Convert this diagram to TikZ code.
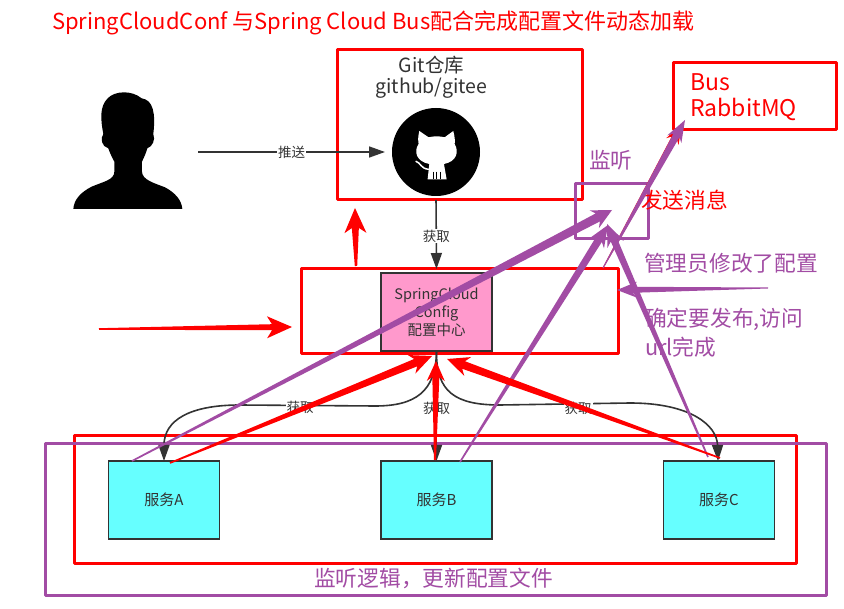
\documentclass[tikz,border=0pt]{standalone}
\usepackage{fontspec}
\setmainfont{Noto Sans CJK SC}
\usetikzlibrary{calc,arrows.meta}
\definecolor{redc}{HTML}{FF0000}
\definecolor{purp}{HTML}{A24CA4}
\definecolor{dark}{HTML}{333333}
\definecolor{pinkf}{HTML}{FF99CC}
\definecolor{cyanf}{HTML}{66FFFF}
\newcommand{\fsz}[1]{\fontsize{#1}{#1}\selectfont}
% colour, from, to, start half width, shaft half width, head length, head half width
\newcommand{\taperarrow}[7]{%
  \fill[#1] ($(#2)!#4!90:(#3)$) --
    ($($(#3)!0.8*#6!(#2)$)!#5!90:(#3)$) --
    ($($(#3)!#6!(#2)$)!#7!90:(#3)$) -- (#3) --
    ($($(#3)!#6!(#2)$)!#7!-90:(#3)$) --
    ($($(#3)!0.8*#6!(#2)$)!#5!-90:(#3)$) --
    ($(#2)!#4!-90:(#3)$) -- cycle;}
\tikzset{
  redbox/.style={draw=redc,line width=3pt,inner sep=0pt,outer sep=0pt,line join=round},
  purpbox/.style={draw=purp,line width=3pt,inner sep=0pt,outer sep=0pt,line join=round},
  svcbox/.style={draw=dark,line width=1.8pt,fill=cyanf,inner sep=0pt,outer sep=0pt,minimum width=111pt,minimum height=78pt,text=dark,font=\fsz{15}},
  cfgbox/.style={draw=dark,line width=1.8pt,fill=pinkf,inner sep=0pt,outer sep=0pt,minimum width=111pt,minimum height=78pt,text=dark,font=\fsz{14.5},align=center},
  conn/.style={draw=dark,line width=1.6pt,-{Triangle[length=16pt,width=11pt]}},
  lbl/.style={fill=white,inner sep=1pt,text=dark,font=\fsz{13.5}},
  purptxt/.style={text=purp,anchor=west,inner sep=0pt,font=\fsz{21.7}},
  redtxt/.style={text=redc,anchor=west,inner sep=0pt,font=\fsz{21.7}},
}
\begin{document}
\begin{tikzpicture}[x=1pt,y=-1pt]
\useasboundingbox (0,0) rectangle (844,609);
\fill[white] (0,0) rectangle (844,609);
% title
\node[redtxt,font=\fsz{22}] (title) at (52,23) {SpringCloudConf 与Spring Cloud Bus配合完成配置文件动态加载};
% person
\begin{scope}[shift={(60,40)},scale=0.3333]
\fill[black] (40,507) .. controls (42,480) and (60,458) .. (95,440)
  .. controls (130,425) and (163,420) .. (163,395) -- (163,365)
  .. controls (155,350) and (148,335) .. (145,325)
  .. controls (125,320) and (120,295) .. (130,282)
  .. controls (122,240) and (118,200) .. (143,175)
  .. controls (165,152) and (215,150) .. (245,175)
  .. controls (280,180) and (287,220) .. (280,282)
  .. controls (287,300) and (277,320) .. (262,325)
  .. controls (258,340) and (252,352) .. (246,365) -- (246,395)
  .. controls (246,420) and (285,430) .. (315,442)
  .. controls (345,458) and (365,480) .. (367,507) -- cycle;
\end{scope}
\coordinate (personR) at (198,152);
% main boxes
\node[redbox,minimum width=245pt,minimum height=150pt] (git) at (459.5,125) {};
\node[text=dark,align=center,inner sep=0pt,font=\fsz{19.5}] (gittxt) at (431.5,77) {Git仓库\\[2pt]github/gitee};
% octocat
\node[circle,fill=black,minimum size=88pt,inner sep=0pt,outer sep=0pt] (icon) at (436,152) {};
\begin{scope}[shift={(60,40)},scale=0.3333]
\fill[white] (1078,273) -- (1106,292) .. controls (1120,288) and (1140,288) .. (1154,292) -- (1180,273)
  .. controls (1184,290) and (1186,302) .. (1184,312)
  .. controls (1198,335) and (1190,365) .. (1152,372) -- (1160,418) -- (1103,418) -- (1108,372)
  .. controls (1070,365) and (1060,335) .. (1076,312)
  .. controls (1074,302) and (1074,290) .. (1078,273) -- cycle;
\draw[white,line width=1.5pt,line cap=round] (1068,364) .. controls (1082,368) and (1082,386) .. (1106,388);
\draw[black,line width=0.7pt] (1120,395) -- (1120,418) (1130,395) -- (1130,418) (1142,395) -- (1142,418);
\end{scope}
\node[redbox,minimum width=317pt,minimum height=85pt] (cfgouter) at (459.5,311.5) {};
\node[cfgbox] (pink) at (436.5,312) {};
\node[text=dark,align=center,inner sep=0pt,font=\fsz{14.5}] (pinktxt) at (436.5,312.5) {SpringCloud\\[1.5pt]Config\\[1.5pt]配置中心};
\node[redbox,minimum width=163pt,minimum height=67pt] (bus) at (754.5,96.5) {};
\node[text=redc,anchor=west,inner sep=0pt,font=\fsz{23}] (bus1) at (690,82) {Bus};
\node[text=redc,anchor=west,inner sep=0pt,font=\fsz{23}] (bus2) at (690,109) {RabbitMQ};
\node[redbox,minimum width=722pt,minimum height=127pt] (svcred) at (435,499.5) {};
\node[purpbox,minimum width=781pt,minimum height=151pt] (svcpurp) at (435.5,519.5) {};
\node[purpbox,minimum width=73pt,minimum height=55pt] (listen) at (611.5,211.5) {};
\node[svcbox] (a) at (164,500) {服务A};
\node[svcbox] (b) at (436.5,500) {服务B};
\node[svcbox] (c) at (719,500) {服务C};
% dark connectors
\draw[conn] (personR) -- node[lbl,pos=0.5] (l1) {推送} ([xshift=-7pt]icon.west);
\draw[conn,shorten <=4pt,shorten >=4pt] (icon.south) -- node[lbl,pos=0.52] (l2) {获取} (pink.north);
\draw[conn] (pink.south) -- node[lbl,pos=0.52] (l3) {获取} (b.north);
\draw[conn] (pink.south) .. controls (436,392) and (415,406) .. (375,406)
  -- (240,405) .. controls (190,405) and (164,420) .. (164,461);
\node[lbl] (l4) at (300,407) {获取};
\draw[conn] (pink.south) .. controls (436,392) and (455,405) .. (500,405)
  -- (630,403) .. controls (690,403) and (717,425) .. (718,461);
\node[lbl] (l5) at (578,408) {获取};
% text
\node[purptxt] (t1) at (589,160) {监听};
\node[redtxt] (t2) at (641,200) {发送消息};
\node[purptxt] (t3) at (644,263) {管理员修改了配置};
\node[purptxt] (t4) at (645,319) {确定要发布,访问};
\node[purptxt] (t5) at (645,347) {url完成};
\node[purptxt] (t6) at (314,578) {监听逻辑，更新配置文件};
% free arrow ends
\coordinate (rs1) at (99,329);     \coordinate (rt1) at (292,327);
\coordinate (rs2) at (356,266);    \coordinate (rt2) at (355,208);
\coordinate (ra) at (170,463);     \coordinate (rta) at (432,356);
\coordinate (rb) at (435,460);     \coordinate (rtb) at (436,361);
\coordinate (rc) at (720,458);     \coordinate (rtc) at (447,359);
\coordinate (rs3) at (603,268);    \coordinate (rt3) at (682,124);
\coordinate (pa) at (132,461);     \coordinate (pta) at (612,210);
\coordinate (pb) at (460,462);     \coordinate (ptb) at (608,225);
\coordinate (pc) at (708,457);     \coordinate (ptc) at (607,224);
\coordinate (ph) at (768,288);     \coordinate (pth) at (617,290);
\coordinate (ps3) at (603,268);    \coordinate (pt3) at (685,120);
% red block arrows
\taperarrow{redc}{rs1}{rt1}{0.8pt}{3pt}{25pt}{11pt}
\taperarrow{redc}{rs2}{rt2}{1.2pt}{3.5pt}{25pt}{11pt}
\taperarrow{redc}{rs3}{rt3}{0.4pt}{3pt}{20pt}{7pt}
% purple arrows
\taperarrow{purp}{pa}{pta}{0.8pt}{4.5pt}{20pt}{10pt}
\taperarrow{purp}{pb}{ptb}{0.8pt}{3.8pt}{22pt}{9pt}
\taperarrow{purp}{pc}{ptc}{0.8pt}{3.5pt}{22pt}{9pt}
\taperarrow{purp}{ph}{pth}{0.5pt}{3pt}{20pt}{8pt}
\taperarrow{purp}{ps3}{pt3}{0.5pt}{3.5pt}{22pt}{8pt}
% red arrows from services
\taperarrow{redc}{ra}{rta}{0.8pt}{4pt}{22pt}{10pt}
\taperarrow{redc}{rb}{rtb}{1pt}{3.5pt}{20pt}{9pt}
\taperarrow{redc}{rc}{rtc}{0.8pt}{4pt}{22pt}{10pt}
\end{tikzpicture}
\end{document}
